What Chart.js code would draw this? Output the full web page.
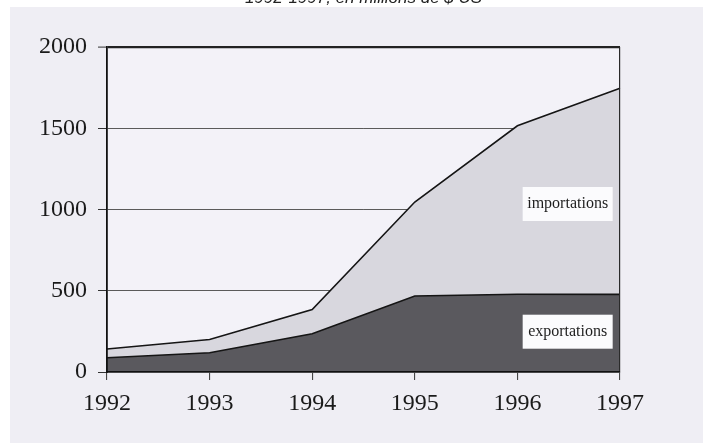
<!DOCTYPE html>
<html>
<head>
<meta charset="utf-8">
<script src="https://cdn.jsdelivr.net/npm/chart.js@4"></script>
<style>
  html, body { margin: 0; padding: 0; background: #ffffff; overflow: hidden; }
  #scan { position: absolute; left: 10px; top: 7px; right: 0; bottom: 0; background: #efeef4; }
  #wrap { position: absolute; left: 0; top: -12px; width: 703px; height: 455px; }
</style>
</head>
<body>
<div id="scan"></div>
<div id="wrap"><canvas id="tradeChart" width="703" height="455"></canvas></div>
<script>
const years = ['1992', '1993', '1994', '1995', '1996', '1997'];
const exportations = [88, 118, 235, 468, 478, 478];
const importations = [142, 200, 384, 1046, 1515, 1746];
const yTicks = [0, 500, 1000, 1500, 2000];

// labels sitting inside the areas (category index, value)
const areaLabels = [
  { text: 'importations', x: 4.49, y: 1034 },
  { text: 'exportations', x: 4.49, y: 248 }
];

const plotBg = {
  id: 'plotBg',
  beforeDraw(chart) {
    const { ctx, chartArea: a } = chart;
    ctx.save();
    ctx.fillStyle = '#f3f2f8';
    ctx.fillRect(a.left, a.top, a.right - a.left, a.bottom - a.top);
    ctx.restore();
  }
};

const labelBoxes = {
  id: 'labelBoxes',
  afterDatasetsDraw(chart) {
    const { ctx, scales } = chart;
    ctx.save();
    ctx.font = '16px "Liberation Serif", serif';
    ctx.textAlign = 'center';
    ctx.textBaseline = 'middle';
    areaLabels.forEach(l => {
      const px = scales.x.getPixelForValue(l.x);
      const py = scales.y.getPixelForValue(l.y);
      ctx.fillStyle = '#fbfbfd';
      ctx.fillRect(px - 45, py - 17, 90, 34);
      ctx.fillStyle = '#1e1e1e';
      ctx.fillText(l.text, px, py);
    });
    ctx.restore();
  }
};

const ctx = document.getElementById('tradeChart').getContext('2d');

new Chart(ctx, {
  type: 'line',
  data: {
    labels: years,
    datasets: [{
      label: 'exportations',
      data: exportations,
      borderColor: '#151515',
      borderWidth: 1.6,
      backgroundColor: '#5a595e',
      fill: 'origin',
      pointRadius: 0,
      tension: 0
    }, {
      label: 'importations',
      data: importations,
      borderColor: '#151515',
      borderWidth: 1.6,
      backgroundColor: '#d8d7de',
      fill: 'origin',
      pointRadius: 0,
      tension: 0
    }]
  },
  options: {
    responsive: false,
    animation: false,
    devicePixelRatio: 1,
    layout: { padding: { top: 0, right: 83, bottom: 0, left: 0 } },
    plugins: {
      legend: { display: false },
      tooltip: { enabled: false },
      title: {
        display: true,
        fullSize: false,
        text: '1992-1997, en millions de $ US',
        color: '#222',
        font: { family: '"Liberation Sans", Arial, sans-serif', size: 17, style: 'italic', weight: 'normal' },
        padding: { top: 0, bottom: 38.6 }
      }
    },
    scales: {
      x: {
        type: 'category',
        offset: false,
        afterFit(scale) { scale.height = 71; scale.paddingLeft = 0; scale.paddingRight = 0; },
        grid: {
          z: 1,
          color: c => c.index === years.length - 1 ? '#2a2a2a' : 'rgba(0,0,0,0)',
          lineWidth: 1.2,
          tickColor: '#333',
          tickLength: 8,
          tickWidth: 1
        },
        border: { display: true, color: '#111', width: 1.8, z: 1 },
        ticks: {
          color: '#1a1a1a',
          padding: 9,
          maxRotation: 0,
          font: { family: '"Liberation Serif", serif', size: 24 }
        }
      },
      y: {
        min: 0,
        max: 2000,
        afterFit(scale) { scale.width = 107; scale.paddingTop = 0; scale.paddingBottom = 0; },
        afterBuildTicks(scale) { scale.ticks = yTicks.map(v => ({ value: v })); },
        grid: {
          color: c => c.tick.value === 0 ? 'rgba(0,0,0,0)' : (c.tick.value === 2000 ? '#222' : '#5a5a5a'),
          lineWidth: c => c.tick.value === 2000 ? 2.2 : 1,
          tickColor: '#333',
          tickLength: 9,
          tickWidth: 1
        },
        border: { display: true, color: '#111', width: 1.8, z: 1 },
        ticks: {
          color: '#1a1a1a',
          padding: 11,
          callback: v => String(v),
          font: { family: '"Liberation Serif", serif', size: 24 }
        }
      }
    }
  },
  plugins: [plotBg, labelBoxes]
});
</script>
</body>
</html>
